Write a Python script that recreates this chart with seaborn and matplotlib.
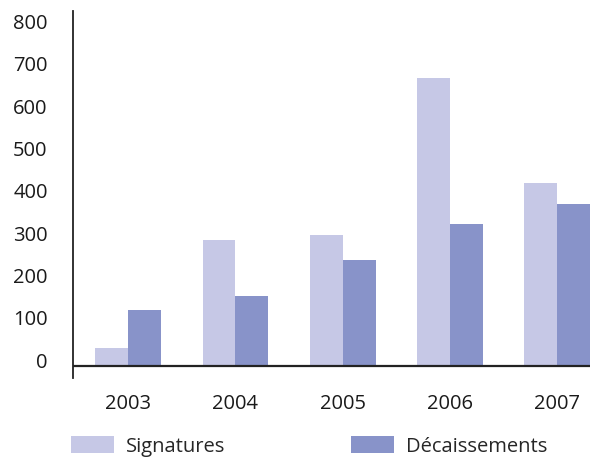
import matplotlib
matplotlib.use("Agg")
import matplotlib.pyplot as plt
import matplotlib.transforms as mtransforms
from matplotlib.patches import Patch
import pandas as pd
import seaborn as sns

years = ["2003", "2004", "2005", "2006", "2007"]
signatures = [43, 298, 310, 681, 433]
decaissements = [132, 165, 251, 336, 383]
series_names = ["Signatures", "Décaissements"]
colors = ["#C6C8E6", "#8893C9"]
y_ticks = [0, 100, 200, 300, 400, 500, 600, 700, 800]

df = pd.DataFrame({
    "year": years * 2,
    "value": signatures + decaissements,
    "series": [series_names[0]] * len(years) + [series_names[1]] * len(years),
})

sns.set_style("white")
plt.rcParams["font.family"] = ["Open Sans", "DejaVu Sans"]

FS = 14.5
W, H = 595, 460
fig = plt.figure(figsize=(W / 100, H / 100), dpi=100)
ax = fig.add_axes([72.7 / W, 1 - 379 / H, (590 - 72.7) / W, (379 - 12) / H])

sns.barplot(data=df, x="year", y="value", hue="series", order=years,
            hue_order=series_names, palette=colors, width=0.615,
            saturation=1, linewidth=0, legend=False, ax=ax)

ax.set_xlim(-0.52, 4.31)
ax.set_ylim(-28, 839)
ax.set_xlabel("")
ax.set_ylabel("")

for s in ["top", "right", "bottom"]:
    ax.spines[s].set_visible(False)
ax.spines["left"].set_color("#222222")
ax.spines["left"].set_linewidth(1.3)
ax.axhline(0, color="#222222", linewidth=1.6, zorder=5)

ax.set_yticks(y_ticks)
ax.set_yticklabels([str(v) for v in y_ticks])
ax.tick_params(axis="y", length=0, pad=18, labelsize=FS, labelcolor="#1a1a1a")
ax.tick_params(axis="x", length=0, pad=11, labelsize=FS, labelcolor="#1a1a1a")
shift = mtransforms.ScaledTranslation(0, 7 / 100, fig.dpi_scale_trans)
for lbl in ax.get_yticklabels():
    lbl.set_transform(lbl.get_transform() + shift)

handles = [Patch(facecolor=c, edgecolor="none", label=n) for c, n in zip(colors, series_names)]
fig.legend(handles=handles, loc="center left", bbox_to_anchor=(71 / W, 1 - 447 / H),
           ncol=2, frameon=False, fontsize=FS, handlelength=2.15, handleheight=0.9,
           handletextpad=0.6, columnspacing=6.2, borderpad=0, borderaxespad=0)

fig.savefig("out.png", dpi=100)
